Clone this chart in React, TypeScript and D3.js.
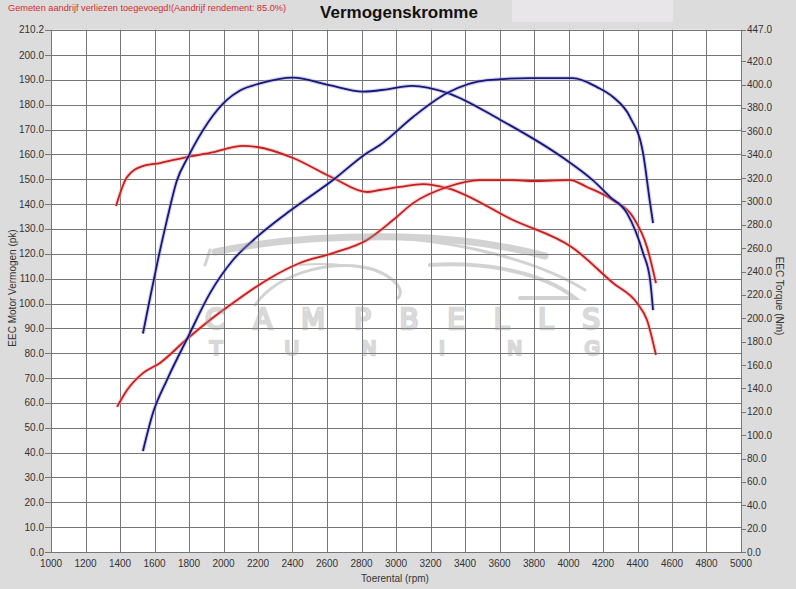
import * as d3 from "d3";
import { useEffect, useRef } from "react";

// tuned (blue) and stock (red) curves, [rpm, value]
const tunedPower: [number, number][] = [
  [1533, 40.6], [1591, 55.9], [1672, 69.2], [1794, 86.5], [1922, 104.2],
  [2055, 117.5], [2194, 126.8], [2368, 136.4], [2635, 149.7], [2832, 160.6],
  [2907, 163.8], [3099, 175.1], [3296, 184.7], [3527, 189.9], [3777, 190.7],
  [4026, 190.7], [4165, 187.1], [4258, 183.1], [4356, 175.1], [4432, 160.6],
  [4473, 140.4], [4490, 132.4],
];
const tunedTorque: [number, number][] = [
  [1533, 187], [1575, 218], [1620, 250], [1672, 284], [1730, 318],
  [1794, 338], [2020, 387], [2096, 395], [2212, 401], [2403, 406],
  [2600, 400], [2809, 394], [2950, 396], [3093, 399],
  [3296, 393], [3603, 370], [3962, 338], [4142, 318], [4240, 304],
  [4339, 290], [4432, 256], [4473, 233], [4490, 207],
];
const stockPower: [number, number][] = [
  [1383, 58.4], [1441, 65.2], [1533, 72.0], [1632, 76.1], [1788, 85.7],
  [1922, 93.4], [2055, 100.2], [2252, 109.5], [2443, 116.3], [2635, 120.3],
  [2832, 125.6], [2983, 133.6], [3099, 140.4], [3296, 146.9], [3487, 149.7],
  [3678, 149.7], [3794, 149.3], [4009, 149.7], [4107, 146.9], [4258, 141.6],
  [4374, 134.8], [4455, 122.7], [4507, 108.2],
];
const stockTorque: [number, number][] = [
  [1377, 296.1], [1441, 320.9], [1533, 330.3], [1632, 332.9], [1788, 338.0],
  [1922, 341.5], [2113, 347.5], [2194, 346.6], [2403, 337.2], [2635, 320.1],
  [2832, 308.1], [2907, 309.8], [3023, 312.4], [3157, 314.9], [3296, 311.5],
  [3678, 284.1], [4026, 260.2], [4258, 230.2], [4397, 213.1], [4455, 198.5],
  [4507, 168.6],
];

const rpmTicks = d3.range(1000, 5001, 200);
const pkTicks = d3.range(0, 201, 10).concat([210.2]);
const nmTicks = d3.range(0, 421, 20).concat([447]);

const W = 796;
const H = 589;
const FONT = "'Liberation Sans', Arial, sans-serif";

export default function App() {
  const svgRef = useRef<SVGSVGElement>(null);

  useEffect(() => {
    if (!svgRef.current) return;
    const root = d3.select(svgRef.current);
    root.selectAll("*").remove();

    const left = 51, right = 741, top = 29.7, bottom = 552;
    const x = d3.scaleLinear().domain([1000, 5000]).range([left, right]);
    const yPk = d3.scaleLinear().domain([0, 210.2]).range([bottom, top]);
    const yNm = d3.scaleLinear().domain([0, 447]).range([bottom, top]);

    root.append("rect").attr("width", W).attr("height", H).attr("fill", "#dddcdd");
    root.append("rect").attr("x", 512).attr("y", 0).attr("width", 161).attr("height", 22).attr("fill", "#e8e6e9");
    root.append("rect").attr("x", left).attr("y", top).attr("width", right - left).attr("height", bottom - top).attr("fill", "#fff");

    // grid
    const grid = root.append("g").attr("stroke", "#767676").attr("stroke-width", 1);
    rpmTicks.forEach((t) => {
      const xx = Math.round(x(t)) + 0.5;
      grid.append("line").attr("x1", xx).attr("x2", xx).attr("y1", top).attr("y2", bottom);
    });
    pkTicks.forEach((t) => {
      const yy = Math.round(yPk(t)) + 0.5;
      grid.append("line").attr("x1", left - 6).attr("x2", right).attr("y1", yy).attr("y2", yy);
    });
    nmTicks.forEach((t) => {
      const yy = Math.round(yNm(t)) + 0.5;
      grid.append("line").attr("x1", right).attr("x2", right + 5).attr("y1", yy).attr("y2", yy);
    });

    // tick labels
    const lbl = root.append("g").attr("font-family", FONT).attr("font-size", 10).attr("fill", "#333");
    pkTicks.forEach((t) => {
      lbl.append("text").attr("x", left - 7).attr("y", yPk(t) + 3.5).attr("text-anchor", "end").text(t.toFixed(1));
    });
    nmTicks.forEach((t) => {
      lbl.append("text").attr("x", right + 6).attr("y", yNm(t) + 3.5).text(t.toFixed(1));
    });
    rpmTicks.forEach((t) => {
      lbl.append("text").attr("x", x(t)).attr("y", bottom + 15).attr("text-anchor", "middle").text(t);
    });

    lbl.append("text").attr("x", 395).attr("y", 582).attr("text-anchor", "middle").text("Toerental (rpm)");
    lbl.append("text").attr("transform", "translate(16,288) rotate(-90)").attr("text-anchor", "middle").text("EEC Motor Vermogen (pk)");
    lbl.append("text").attr("transform", "translate(776,296) rotate(90)").attr("text-anchor", "middle").text("EEC Torque (Nm)");

    root.append("text").attr("x", 399).attr("y", 18).attr("text-anchor", "middle")
      .attr("font-family", FONT).attr("font-weight", "bold").attr("font-size", 17).attr("fill", "#111")
      .text("Vermogenskromme");
    root.append("text").attr("x", 8).attr("y", 11).attr("font-family", FONT).attr("font-size", 9.5)
      .attr("textLength", 278).attr("lengthAdjust", "spacingAndGlyphs").attr("fill", "#d42a2a")
      .text("Gemeten aandrijf verliezen toegevoegd!(Aandrijf rendement: 85.0%)");

    // curves
    const curves = root.append("g").attr("fill", "none").attr("stroke-linejoin", "round");
    const draw = (data: [number, number][], yS: d3.ScaleLinear<number, number>, color: string, glow: string) => {
      const line = d3.line<[number, number]>().x((d) => x(d[0])).y((d) => yS(d[1])).curve(d3.curveMonotoneX);
      curves.append("path").attr("d", line(data)).attr("stroke", glow).attr("stroke-width", 4).attr("stroke-opacity", 0.45);
      curves.append("path").attr("d", line(data)).attr("stroke", color).attr("stroke-width", 1.8);
    };
    draw(stockTorque, yNm, "#c3201f", "#f19a9a");
    draw(stockPower, yPk, "#c3201f", "#f19a9a");
    draw(tunedTorque, yNm, "#17177a", "#9a9ad0");
    draw(tunedPower, yPk, "#17177a", "#9a9ad0");

    // watermark
    const wm = root.append("g").attr("opacity", 0.38);
    const sw = wm.append("g").attr("fill", "none").attr("stroke", "#8c8c8c").attr("stroke-linecap", "round");
    sw.append("path").attr("d", "M215,252 C270,240 330,236 400,237 C450,238 500,244 545,256").attr("stroke-width", 7);
    sw.append("path").attr("d", "M400,238 C470,244 540,262 585,290").attr("stroke-width", 3);
    sw.append("path").attr("d", "M255,305 C280,270 340,258 375,270 C395,278 405,290 398,298").attr("stroke-width", 3);
    sw.append("path").attr("d", "M300,265 C330,262 360,266 380,272").attr("stroke-width", 2);
    sw.append("path").attr("d", "M430,265 C480,262 540,270 575,298 L520,298").attr("stroke-width", 4);
    sw.append("path").attr("d", "M210,250 L205,265").attr("stroke-width", 3);
    wm.append("text").attr("x", 205).attr("y", 329).attr("textLength", 395).attr("lengthAdjust", "spacing")
      .attr("font-family", "'DejaVu Sans', sans-serif").attr("font-size", 28).attr("fill", "none")
      .attr("stroke", "#9a9a9a").attr("stroke-width", 2.5).text("CAMPBELLS");
    wm.append("text").attr("x", 210).attr("y", 355).attr("textLength", 390).attr("lengthAdjust", "spacing")
      .attr("font-family", "'DejaVu Sans', sans-serif").attr("font-size", 20).attr("fill", "none")
      .attr("stroke", "#9a9a9a").attr("stroke-width", 2.5).text("TUNING");
  }, []);

  return (
    <svg
      ref={svgRef}
      width={W}
      height={H}
      style={{ position: "absolute", left: 0, top: 0, display: "block" }}
    />
  );
}
